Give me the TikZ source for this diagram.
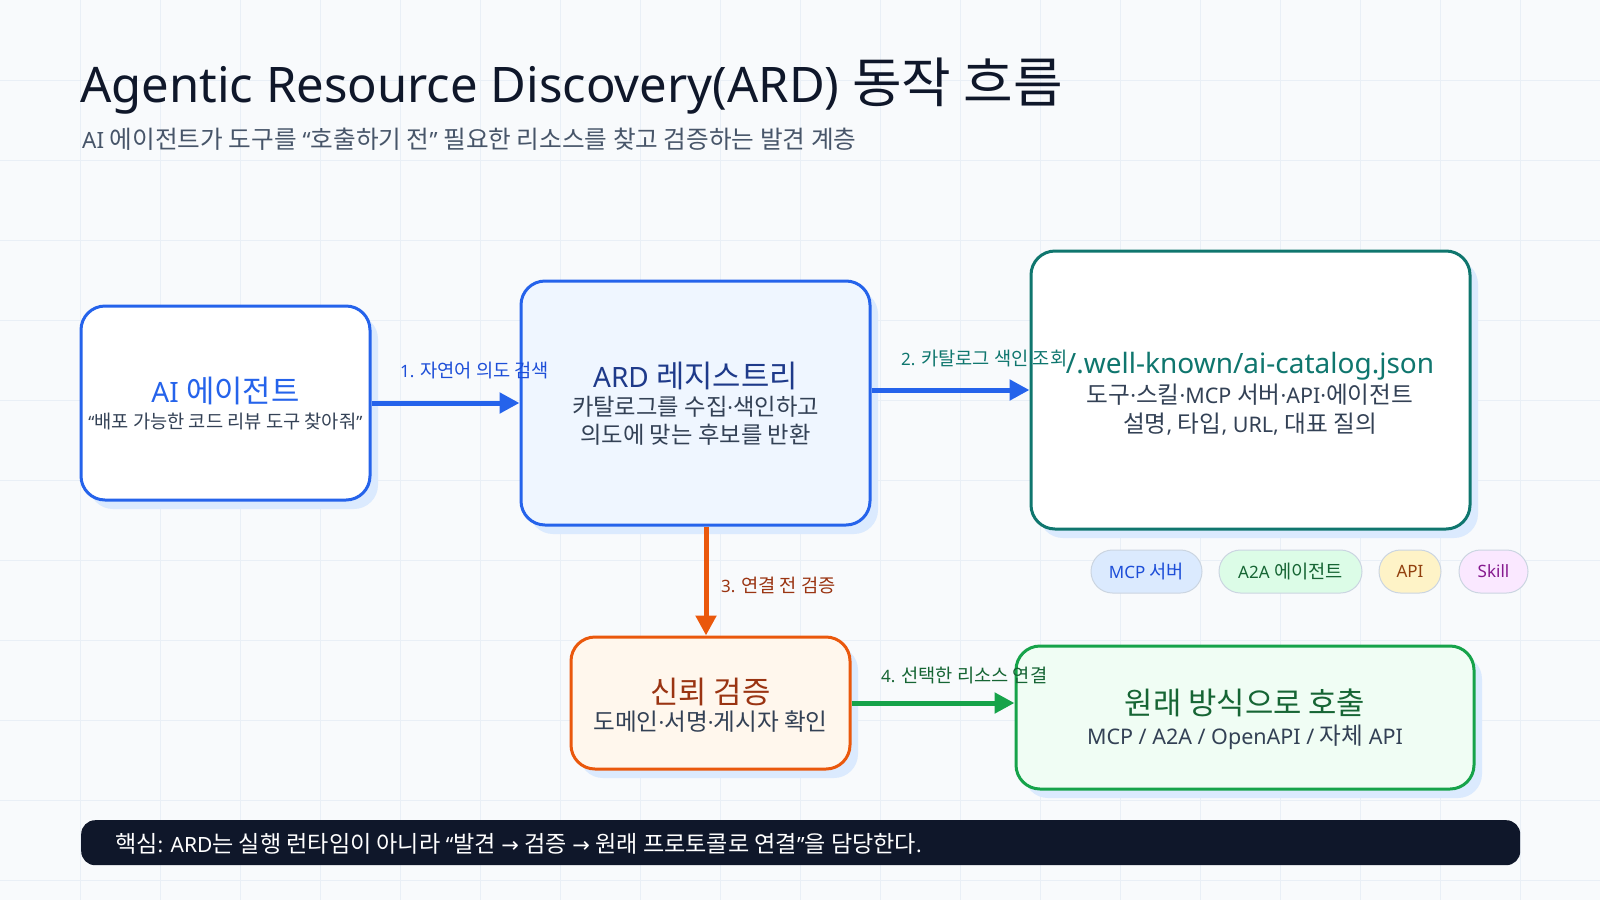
\documentclass[tikz,border=0pt]{standalone}
\usepackage{fontspec}
\setmainfont{Noto Sans}
\newfontfamily\hangulfont{Noto Sans CJK KR}[Scale=1.1]
\newfontfamily\symfont{DejaVu Sans}
\newcommand{\hg}[1]{{\hangulfont #1}}
\usetikzlibrary{arrows.meta,shadows}
\definecolor{bgc}{HTML}{F8FAFC}
\definecolor{gridc}{HTML}{E9EFF6}
\definecolor{titlec}{HTML}{0F172A}
\definecolor{subc}{HTML}{475569}
\definecolor{bodyc}{HTML}{334155}
\definecolor{shadowc}{HTML}{DBEAFE}
\definecolor{blue1}{HTML}{2563EB}
\definecolor{blue2}{HTML}{1D4ED8}
\definecolor{navy}{HTML}{1E3A8A}
\definecolor{bluefill}{HTML}{EFF6FF}
\definecolor{teal1}{HTML}{0F766E}
\definecolor{orange1}{HTML}{EA580C}
\definecolor{orangetext}{HTML}{9A3412}
\definecolor{orangefill}{HTML}{FFF7ED}
\definecolor{green1}{HTML}{16A34A}
\definecolor{greentext}{HTML}{166534}
\definecolor{greenfill}{HTML}{F0FDF4}
\definecolor{chipborder}{HTML}{CBD5E1}
\definecolor{chipblue}{HTML}{DBEAFE}
\definecolor{chipgreen}{HTML}{DCFCE7}
\definecolor{chipamber}{HTML}{FEF3C7}
\definecolor{chippink}{HTML}{FAE8FF}
\definecolor{amber}{HTML}{92400E}
\definecolor{fuchsia}{HTML}{86198F}
\definecolor{barc}{HTML}{0F172A}
\newcommand{\setfs}[1]{\fontsize{#1}{#1}\selectfont}
\begin{document}
\begin{tikzpicture}[x=1pt,y=-1pt,
  box/.style={draw, line width=3pt, rounded corners=24pt, inner sep=0pt,
    drop shadow={shadow xshift=8pt, shadow yshift=-9pt, fill=shadowc, opacity=1}},
  arr/.style={line width=5pt, -{Triangle[length=20pt,width=20pt]}},
  lbl/.style={anchor=base west, inner sep=0pt, font=\setfs{17}},
  ttl/.style={anchor=base, inner sep=0pt, font=\setfs{28}},
  bdy/.style={anchor=base, inner sep=0pt, font=\setfs{21.5}, text=bodyc},
  chip/.style={draw=chipborder, line width=1pt, rounded corners=21.5pt, minimum height=43pt, inner sep=0pt, font=\setfs{17}}
]
\useasboundingbox (0,0) rectangle (1600,900);
\fill[bgc] (0,0) rectangle (1600,900);
\foreach \i in {80,160,...,1520} \draw[gridc, line width=1pt] (\i,0) -- (\i,900);
\foreach \j in {80,160,...,880} \draw[gridc, line width=1pt] (0,\j) -- (1600,\j);

% title
\node[anchor=base west, inner sep=0pt, text=titlec, font=\setfs{49}] (title) at (80,102) {Agentic Resource Discovery(ARD) \hg{동작 흐름}};
\node[anchor=base west, inner sep=0pt, text=subc, font=\setfs{22.4}] (subtitle) at (82,148) {AI \hg{에이전트가 도구를} “\hg{호출하기 전}” \hg{필요한 리소스를 찾고 검증하는 발견 계층}};

% boxes
\node[box, draw=blue1, fill=white, minimum width=289pt, minimum height=194pt] (agent) at (225.5,403) {};
\node[box, draw=blue1, fill=bluefill, minimum width=349pt, minimum height=244pt] (reg) at (695.5,403) {};
\node[box, draw=teal1, fill=white, minimum width=439pt, minimum height=278pt] (cat) at (1250.5,390) {};
\node[box, draw=orange1, fill=orangefill, minimum width=279pt, minimum height=132pt] (trust) at (710.5,703) {};
\node[box, draw=green1, fill=greenfill, minimum width=458pt, minimum height=143pt] (call) at (1245,717.5) {};

% box texts
\node[ttl, text=blue1] (agentT) at (225.5,402) {AI \hg{에이전트}};
\node[bdy, font=\setfs{17}] (agentB) at (225.5,428) {“\hg{배포 가능한 코드 리뷰 도구 찾아줘}”};
\node[ttl, text=navy] (regT) at (695.5,387) {ARD \hg{레지스트리}};
\node[bdy, font=\setfs{21.2}] (regB1) at (695.5,415) {\hg{카탈로그를 수집}·\hg{색인하고}};
\node[bdy, font=\setfs{21.2}] (regB2) at (695.5,443) {\hg{의도에 맞는 후보를 반환}};
\node[ttl, text=teal1] (catT) at (1250,373) {/.well-known/ai-catalog.json};
\node[bdy] (catB1) at (1250,403) {\hg{도구}·\hg{스킬}·MCP \hg{서버}·API·\hg{에이전트}};
\node[bdy] (catB2) at (1250,432) {\hg{설명}, \hg{타입}, URL, \hg{대표 질의}};
\node[ttl, text=orangetext] (trustT) at (710.5,703) {\hg{신뢰 검증}};
\node[bdy] (trustB) at (710.5,730) {\hg{도메인}·\hg{서명}·\hg{게시자 확인}};
\node[ttl, text=greentext] (callT) at (1245,714) {\hg{원래 방식으로 호출}};
\node[bdy] (callB) at (1245,744) {MCP / A2A / OpenAPI / \hg{자체} API};

% chips
\node[chip, fill=chipblue, text=blue2, minimum width=111pt] (c1) at (1146.5,571.5) {MCP \hg{서버}};
\node[chip, fill=chipgreen, text=greentext, minimum width=143pt] (c2) at (1290.5,571.5) {A2A \hg{에이전트}};
\node[chip, fill=chipamber, text=amber, minimum width=62pt] (c3) at (1410,571.5) {API};
\node[chip, fill=chippink, text=fuchsia, minimum width=69pt] (c4) at (1493.5,571.5) {Skill};

% arrows
\coordinate (a3) at (706,0);
\draw[arr, blue1] (agent) -- (reg);
\draw[arr, blue1] (reg.east |- cat.west) -- (cat.west);
\draw[arr, orange1] (reg.south -| a3) -- (trust.north -| a3);
\draw[arr, green1] (trust.east) -- (call.west |- trust.east);

% labels
\node[lbl, text=blue2] (l1) at (400,377) {1. \hg{자연어 의도 검색}};
\node[lbl, text=teal1] (l2) at (901,365) {2. \hg{카탈로그 색인 조회}};
\node[lbl, text=orangetext] (l3) at (721,592) {3. \hg{연결 전 검증}};
\node[lbl, text=greentext] (l4) at (881,682) {4. \hg{선택한 리소스 연결}};

% bottom bar
\node[fill=barc, rounded corners=14pt, minimum width=1439pt, minimum height=45pt, inner sep=0pt, anchor=north west] (bar) at (81,820) {};
\node[anchor=base west, inner sep=0pt, text=white, font=\setfs{21}] (barT) at (115,852) {\hg{핵심}: ARD\hg{는 실행 런타임이 아니라} “\hg{발견} {\symfont →} \hg{검증} {\symfont →} \hg{원래 프로토콜로 연결}”\hg{을 담당한다}.};
\end{tikzpicture}
\end{document}
